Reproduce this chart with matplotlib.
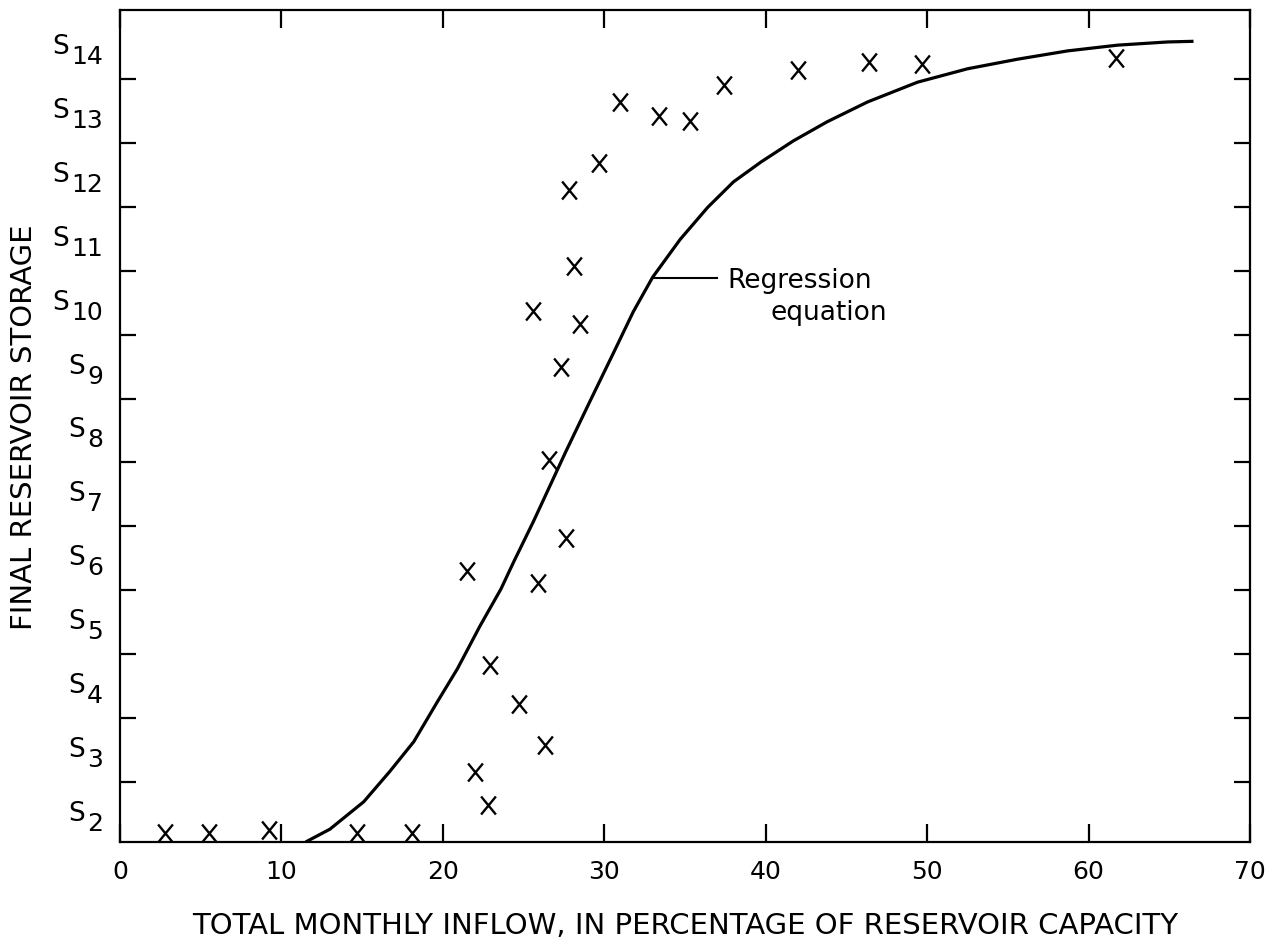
import matplotlib
matplotlib.use('Agg')
import matplotlib.pyplot as plt
from matplotlib.path import Path

# ---- data ----
obs_x = [2.8, 5.5, 9.2, 14.7, 18.1, 22.0, 22.8, 24.7, 26.3, 22.9, 21.5, 25.9,
         27.6, 26.6, 27.3, 25.6, 28.5, 28.1, 27.8, 29.7, 31.0, 33.4, 35.3, 37.4,
         42.0, 46.4, 49.7, 61.7]
obs_y = [1.70, 1.70, 1.74, 1.70, 1.70, 2.66, 2.14, 3.72, 3.08, 4.33, 5.80, 5.61,
         6.32, 7.54, 8.99, 9.87, 9.67, 10.58, 11.76, 12.19, 13.14, 12.92, 12.84, 13.41,
         13.64, 13.77, 13.74, 13.83]

curve_x = [11.5, 13.0, 15.1, 16.7, 18.2, 19.65, 20.9, 22.3, 23.6, 24.4, 25.6, 27.6,
           29.1, 30.6, 31.8, 33.0, 34.7, 36.4, 38.0, 39.7, 41.7, 43.8, 46.3, 49.4,
           52.5, 55.6, 58.7, 61.8, 64.9, 66.5]
curve_y = [1.56, 1.76, 2.19, 2.66, 3.13, 3.75, 4.27, 4.94, 5.52, 5.95, 6.57, 7.66,
           8.45, 9.23, 9.86, 10.40, 10.99, 11.49, 11.89, 12.20, 12.53, 12.83, 13.14, 13.45,
           13.66, 13.81, 13.94, 14.03, 14.08, 14.09]

x_ticks = [0, 10, 20, 30, 40, 50, 60, 70]
x_tick_labels = ['0', '10', '20', '30', '40', '50', '60', '70']
storage_levels = [2, 3, 4, 5, 6, 7, 8, 9, 10, 11, 12, 13, 14]
storage_subscripts = ['2', '3', '4', '5', '6', '7', '8', '9', '10', '11', '12', '13', '14']
boundary_ticks = [2.5, 3.5, 4.5, 5.5, 6.5, 7.5, 8.5, 9.5, 10.5, 11.5, 12.5, 13.5]

plt.rcParams['font.family'] = ['DejaVu Sans']

fig = plt.figure(figsize=(12.86, 9.45), dpi=100)
ax = fig.add_axes([120/1286, 1 - 843/945, 1130/1286, 832/945])

ax.set_xlim(0, 70)
ax.set_ylim(1.56, 14.58)

# regression curve
ax.plot(curve_x, curve_y, color='black', lw=2.3, solid_capstyle='butt',
        solid_joinstyle='round', zorder=3)

# X markers (slightly taller than wide)
xmark = Path([(-0.41, -0.5), (0.41, 0.5), (-0.41, 0.5), (0.41, -0.5)],
             [Path.MOVETO, Path.LINETO, Path.MOVETO, Path.LINETO])
ax.plot(obs_x, obs_y, linestyle='none', marker=xmark, markersize=13,
        markeredgewidth=1.7, color='black', zorder=4)

# spines
for s in ax.spines.values():
    s.set_linewidth(1.6)

# x ticks
ax.set_xticks(x_ticks)
ax.set_xticklabels(x_tick_labels, fontsize=18)
ax.tick_params(axis='x', which='major', direction='in', length=13, width=1.6,
               top=True, bottom=True, pad=12)

# y ticks (boundaries, no labels)
ax.set_yticks(boundary_ticks)
ax.set_yticklabels([])
ax.tick_params(axis='y', which='major', direction='in', length=11.5, width=1.6,
               left=True, right=True)

# custom S_k labels
ytrans = ax.get_yaxis_transform()
for lvl, sub in zip(storage_levels, storage_subscripts):
    sub_txt = ax.annotate(sub, xy=(0, lvl), xycoords=ytrans,
                          xytext=(-17, -9), textcoords='offset pixels',
                          ha='right', va='center', fontsize=18, annotation_clip=False)
    ax.annotate('S', xy=(0, 0.5), xycoords=sub_txt,
                xytext=(-2, 10), textcoords='offset pixels',
                ha='right', va='center', fontsize=19, annotation_clip=False)

# axis labels
ax.set_xlabel('TOTAL MONTHLY INFLOW, IN PERCENTAGE OF RESERVOIR CAPACITY',
              fontsize=21, va='center')
ax.xaxis.set_label_coords(0.5, (843 - 926) / 832)
ax.set_ylabel('FINAL RESERVOIR STORAGE', fontsize=21, va='center')
ax.yaxis.set_label_coords((24 - 120) / 1130, 0.5)

# annotation
ax.plot([33.1, 37.0], [10.39, 10.39], color='black', lw=1.5, zorder=3)
ax.text(37.6, 10.36, 'Regression', fontsize=19, ha='left', va='center')
ax.text(40.3, 9.86, 'equation', fontsize=19, ha='left', va='center')

fig.savefig('out.png', dpi=100, facecolor='white')
